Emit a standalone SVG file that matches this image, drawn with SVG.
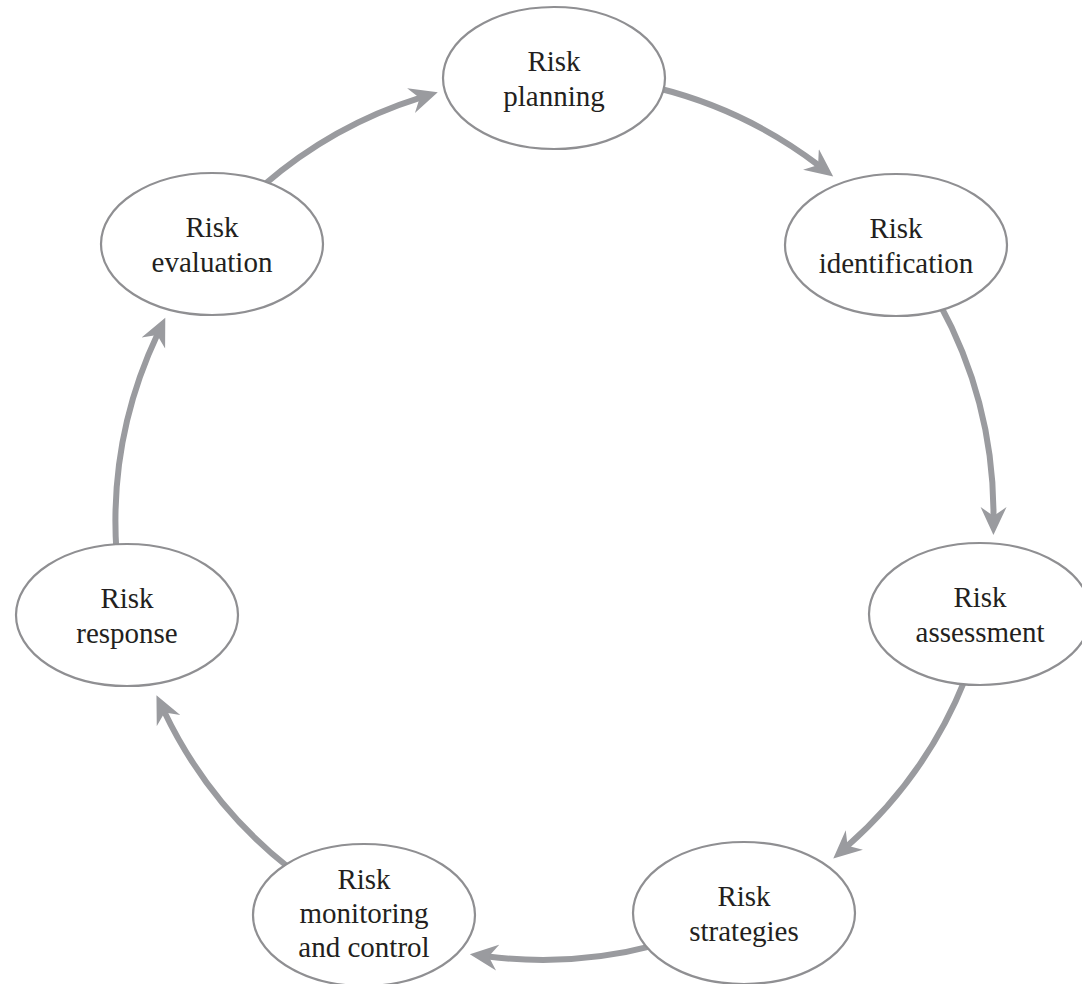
<svg xmlns="http://www.w3.org/2000/svg" width="1082" height="984" viewBox="0 0 1082 984">
<style>
.node ellipse{fill:#ffffff;stroke:#8f8f92;stroke-width:2.2}
.node text{font-family:"Liberation Serif","Times New Roman",serif;font-size:29px;fill:#231f20;text-anchor:middle}
.conn path{fill:none;stroke:#9a9b9f;stroke-width:6;marker-end:url(#ah)}
</style>
<defs>
<marker id="ah" markerUnits="userSpaceOnUse" viewBox="0 -14 30 28" markerWidth="30" markerHeight="28" refX="10" refY="0" orient="auto">
<path d="M0,-13 L28,0 L0,13 L9,0 Z" fill="#9a9b9f"/>
</marker>
</defs>
<rect width="1082" height="984" fill="#ffffff"/>
<g id="connectors" class="conn">
<path d="M263.8,185.1 A441,441 0 0 1 420.6,97.7"/>
<path d="M657.3,88 A441,441 0 0 1 818.9,165.5"/>
<path d="M939.2,303 A441,441 0 0 1 993.5,517"/>
<path d="M965,679.6 A441,441 0 0 1 846.8,846.5"/>
<path d="M654.8,945.3 A441,441 0 0 1 487.7,956.4"/>
<path d="M289.3,868 A441,441 0 0 1 164.2,711.5"/>
<path d="M116.4,551 A441,441 0 0 1 157.6,334"/>
</g>
<g id="node-planning" class="node">
<ellipse cx="554" cy="78" rx="111" ry="71"/>
<text x="554" y="71">Risk</text>
<text x="554" y="106">planning</text>
</g>
<g id="node-identification" class="node">
<ellipse cx="896" cy="245" rx="111" ry="71"/>
<text x="896" y="238">Risk</text>
<text x="896" y="273">identification</text>
</g>
<g id="node-assessment" class="node">
<ellipse cx="980" cy="614" rx="111" ry="71"/>
<text x="980" y="607">Risk</text>
<text x="980" y="642">assessment</text>
</g>
<g id="node-strategies" class="node">
<ellipse cx="744" cy="913" rx="111" ry="71"/>
<text x="744" y="906">Risk</text>
<text x="744" y="941">strategies</text>
</g>
<g id="node-monitoring" class="node">
<ellipse cx="364" cy="915" rx="111" ry="71"/>
<text x="364" y="889">Risk</text>
<text x="364" y="923">monitoring</text>
<text x="364" y="957">and control</text>
</g>
<g id="node-response" class="node">
<ellipse cx="127" cy="615" rx="111" ry="71"/>
<text x="127" y="608">Risk</text>
<text x="127" y="643">response</text>
</g>
<g id="node-evaluation" class="node">
<ellipse cx="212" cy="244" rx="111" ry="71"/>
<text x="212" y="237">Risk</text>
<text x="212" y="272">evaluation</text>
</g>
</svg>
